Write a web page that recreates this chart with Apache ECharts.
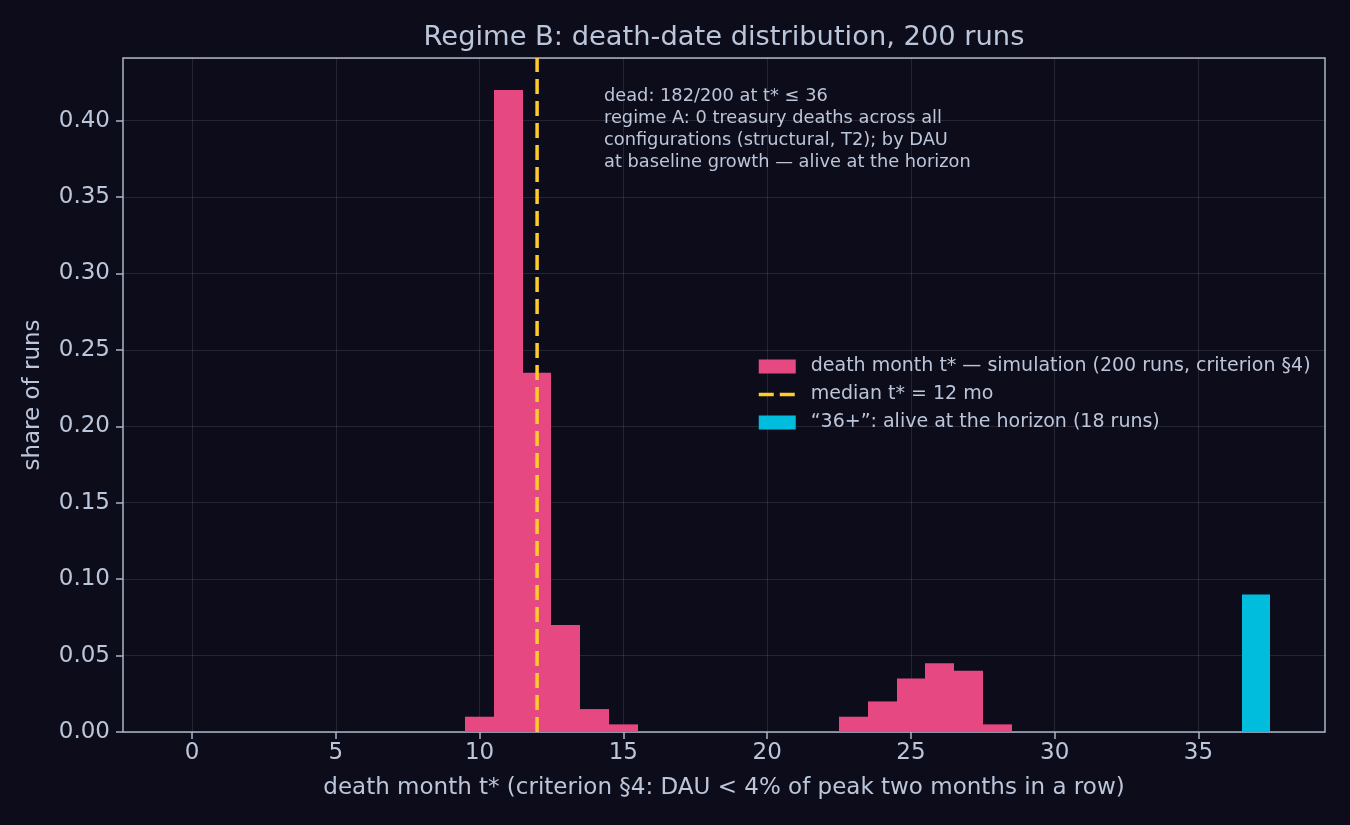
<!DOCTYPE html>
<html>
<head>
<meta charset="utf-8">
<title>Regime B: death-date distribution</title>
<script src="https://cdn.jsdelivr.net/npm/echarts@6/dist/echarts.min.js"></script>
<style>
	html, body { margin: 0; padding: 0; background: #0d0c1a; }
	#chart { width: 1350px; height: 825px; }
</style>
</head>
<body>
<div id="chart"></div>
<script>
// histogram of death month t*, share of 200 runs per 1-month bin
var deathMonths = [10, 11, 12, 13, 14, 15, 23, 24, 25, 26, 27, 28];
var deathShares = [0.01, 0.42, 0.235, 0.07, 0.015, 0.005, 0.01, 0.02, 0.035, 0.045, 0.04, 0.005];
// runs still alive at the 36-month horizon, drawn at 37
var aliveMonth = [37];
var aliveShare = [0.09];
var medianMonth = 12;
var xTicks = [0, 5, 10, 15, 20, 25, 30, 35];
var xRange = [-2.4, 39.4];
var yRange = [0, 0.441];
var noteLines = [
	'dead: 182/200 at t* \u2264 36',
	'regime A: 0 treasury deaths across all',
	'configurations (structural, T2); by DAU',
	'at baseline growth \u2014 alive at the horizon'
];

var textColor = '#bcc6da';
var frameColor = '#a9b4c8';
var pink = '#e64882';
var cyan = '#00bddd';
var yellow = '#ffcc2a';
var font = 'DejaVu Sans';

function pairs(xs, ys) {
	var out = [];
	for (var i = 0; i < xs.length; i++) {
		out.push([xs[i], ys[i]]);
	}
	return out;
}

// one rect per 1-month bin, edges snapped to whole pixels so neighbours join cleanly
function binRender(fill) {
	return function(params, api) {
		var x = api.value(0);
		var y = api.value(1);
		var p0 = api.coord([x - 0.5, y]);
		var p1 = api.coord([x + 0.5, 0]);
		var left = Math.round(p0[0]);
		var right = Math.round(p1[0]);
		return {
			type: 'rect',
			shape: { x: left, y: p0[1], width: right - left, height: p1[1] - p0[1] },
			style: { fill: fill, stroke: null, lineWidth: 0 }
		};
	};
}

var chart = echarts.init(document.getElementById('chart'));
var option = {
	backgroundColor: '#0d0c1a',
	animation: false,
	textStyle: { fontFamily: font, color: textColor },
	title: {
		text: 'Regime B: death-date distribution, 200 runs',
		left: 719,
		textAlign: 'center',
		top: 19,
		textStyle: { color: textColor, fontSize: 27.3, fontWeight: 'normal', fontFamily: font }
	},
	grid: {
		left: 123, right: 25, top: 58, bottom: 93,
		show: true, borderColor: frameColor, borderWidth: 1.5
	},
	legend: {
		orient: 'vertical',
		left: 752,
		top: 352,
		itemWidth: 37,
		itemHeight: 14,
		itemGap: 9,
		textStyle: { color: textColor, fontSize: 19, fontFamily: font, padding: [0, 0, 0, 10] },
		data: [
			{ name: 'death month t* \u2014 simulation (200 runs, criterion \u00a74)', icon: 'rect' },
			{
				name: 'median t* = 12 mo',
				itemStyle: { opacity: 0 },
				lineStyle: { color: yellow, width: 3.5, type: [15, 6] }
			},
			{ name: '\u201c36+\u201d: alive at the horizon (18 runs)', icon: 'rect' }
		]
	},
	xAxis: {
		type: 'value',
		min: xRange[0],
		max: xRange[1],
		name: 'death month t* (criterion \u00a74: DAU < 4% of peak two months in a row)',
		nameLocation: 'middle',
		nameGap: 45,
		nameTextStyle: { color: textColor, fontSize: 23, fontFamily: font },
		axisLine: { show: false, onZero: false },
		axisTick: { show: true, customValues: xTicks, length: 7, lineStyle: { color: frameColor, width: 1.5 } },
		axisLabel: { customValues: xTicks, color: textColor, fontSize: 23, margin: 10, fontFamily: font },
		splitLine: { show: true, lineStyle: { color: 'rgba(255,255,255,0.1)', width: 1 } }
	},
	yAxis: {
		type: 'value',
		min: yRange[0],
		max: yRange[1],
		interval: 0.05,
		name: 'share of runs',
		nameLocation: 'middle',
		nameGap: 78,
		nameTextStyle: { color: textColor, fontSize: 23, fontFamily: font },
		axisLine: { show: false, onZero: false },
		axisTick: { show: true, length: 7, lineStyle: { color: frameColor, width: 1.5 } },
		axisLabel: {
			color: textColor, fontSize: 23, margin: 13, fontFamily: font,
			showMaxLabel: false,
			formatter: function(v) { return v.toFixed(2); }
		},
		splitLine: { show: true, lineStyle: { color: 'rgba(255,255,255,0.1)', width: 1 } }
	},
	graphic: [{
		type: 'text',
		left: 604,
		top: 86,
		style: {
			text: noteLines.join('\n'),
			fill: textColor,
			font: '17.8px "DejaVu Sans"',
			lineHeight: 21.7
		}
	}],
	series: [
		{
			name: 'death month t* \u2014 simulation (200 runs, criterion \u00a74)',
			type: 'custom',
			renderItem: binRender(pink),
			itemStyle: { color: pink },
			encode: { x: 0, y: 1 },
			data: pairs(deathMonths, deathShares),
			z: 2
		},
		{
			name: 'median t* = 12 mo',
			type: 'line',
			symbol: 'none',
			lineStyle: { color: yellow, width: 3.5, type: [15, 7] },
			itemStyle: { color: yellow },
			data: [[medianMonth, yRange[0]], [medianMonth, yRange[1]]],
			z: 4
		},
		{
			name: '\u201c36+\u201d: alive at the horizon (18 runs)',
			type: 'custom',
			renderItem: binRender(cyan),
			itemStyle: { color: cyan },
			encode: { x: 0, y: 1 },
			data: pairs(aliveMonth, aliveShare),
			z: 2
		}
	]
};
chart.setOption(option);
</script>
</body>
</html>
